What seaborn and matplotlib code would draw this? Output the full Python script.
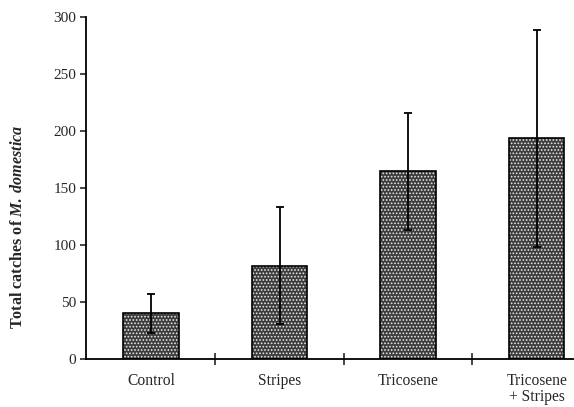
import numpy as np
import pandas as pd
import matplotlib
matplotlib.use('Agg')
import matplotlib.pyplot as plt
import seaborn as sns

groups = ['Control', 'Stripes', 'Tricosene', 'Tricosene\n+ Stripes']
catches = [40, 82, 164.5, 193.5]
errs = [17, 51, 51.5, 95]
yticks = [0, 50, 100, 150, 200, 250, 300]

sns.set_style('ticks')
plt.rcParams['font.family'] = ['Liberation Serif', 'DejaVu Serif']
plt.rcParams['mathtext.fontset'] = 'custom'
plt.rcParams['mathtext.it'] = 'Liberation Serif:italic:bold'
plt.rcParams['mathtext.rm'] = 'Liberation Serif:bold'
plt.rcParams['hatch.linewidth'] = 0.8

df = pd.DataFrame({'group': groups, 'catches': catches})

fig = plt.figure(figsize=(5.74, 4.07), dpi=100)
ax = fig.add_axes([86/574, 48/407, 488/574, 342/407])

# stippled fill, then black outline on top
sns.barplot(data=df, x='group', y='catches', color='#3c3c3c', width=0.43,
            errorbar=None, ax=ax, edgecolor='#e8e8e8', linewidth=0, hatch='.....')
sns.barplot(data=df, x='group', y='catches', color='black', width=0.43,
            errorbar=None, ax=ax, fill=False, linewidth=1.2)
ax.errorbar(np.arange(len(groups)), catches, yerr=errs, fmt='none',
            ecolor='black', elinewidth=1.3, capsize=2.6, capthick=1.3, zorder=5)

ax.set_ylim(0, 300)
ax.set_xlim(-0.505, 3.29)
ax.set_yticks(yticks)
ax.set_yticklabels([str(t) for t in yticks], fontsize=11)
ax.set_xticks([0.5, 1.5, 2.5])
ax.set_xticklabels([])
ax.set_xticks(range(len(groups)), minor=True)
ax.set_xticklabels(groups, minor=True, fontsize=11.2, linespacing=1.0)
ax.tick_params(axis='x', which='major', direction='inout', length=8, width=1.2)
ax.tick_params(axis='x', which='minor', length=0, pad=10)
ax.tick_params(axis='y', direction='out', length=4, width=1.2, pad=3)

ax.set_xlabel('')
ax.set_ylabel(r'Total catches of $\it{M.\;domestica}$', fontsize=11.6, fontweight='bold')
ax.yaxis.set_label_coords(-0.122, 0.387)

sns.despine(ax=ax)
for s in ['left', 'bottom']:
    ax.spines[s].set_linewidth(1.3)
    ax.spines[s].set_color('black')

fig.savefig('out.png', dpi=100)
